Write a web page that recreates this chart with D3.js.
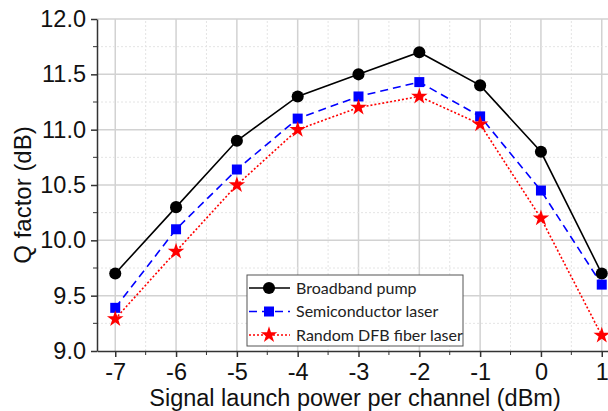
<!DOCTYPE html>
<meta charset="utf-8">
<script src="https://d3js.org/d3.v7.min.js"></script>
<style>
  body { margin: 0; background: #fff; }
  svg { display: block; }
</style>
<div id="chart"></div>
<script>

// data
var power = [-7, -6, -5, -4, -3, -2, -1, 0, 1];
var broadband = [9.7, 10.3, 10.9, 11.3, 11.5, 11.7, 11.4, 10.8, 9.7];
var semiconductor = [9.39, 10.1, 10.64, 11.1, 11.3, 11.43, 11.12, 10.45, 9.6];
var randomDfb = [9.29, 9.9, 10.5, 11.0, 11.2, 11.3, 11.05, 10.2, 9.14];
var seriesNames = ["Broadband pump", "Semiconductor laser", "Random DFB fiber laser"];
var yTicks = [9.0, 9.5, 10.0, 10.5, 11.0, 11.5, 12.0];

var axisFont = "'Liberation Sans', Arial, sans-serif";

var width = 608, height = 411;
var svg = d3.select("#chart").append("svg")
  .attr("width", width)
  .attr("height", height);

var x = d3.scaleLinear().domain([-7.3, 1.3]).range([97, 620]);
var y = d3.scaleLinear().domain([9, 12]).range([351, 19]);

// grid
var grid = svg.append("g");
d3.range(-7, 1.01, 0.5).forEach(function(v) {
  var major = Math.abs(v - Math.round(v)) < 1e-6;
  grid.append("line")
    .attr("x1", x(v)).attr("x2", x(v))
    .attr("y1", y(9)).attr("y2", y(12))
    .attr("stroke", major ? "#d2d2d2" : "#e4e4e4")
    .attr("stroke-width", major ? 1.5 : 1)
    .attr("stroke-dasharray", major ? null : "2,2");
});
d3.range(9.25, 12.01, 0.25).forEach(function(v) {
  var major = Math.abs(v * 2 - Math.round(v * 2)) < 1e-6;
  grid.append("line")
    .attr("x1", x(-7.3)).attr("x2", width)
    .attr("y1", y(v)).attr("y2", y(v))
    .attr("stroke", major ? "#d2d2d2" : "#e4e4e4")
    .attr("stroke-width", major ? 1.5 : 1)
    .attr("stroke-dasharray", major ? null : "2,2");
});

// axes (plain hyphen for negative labels, like the original)
var xAxis = svg.append("g")
  .attr("transform", "translate(0," + y(9) + ")")
  .call(d3.axisBottom(x).tickValues(power).tickSize(6).tickPadding(6).tickSizeOuter(0)
    .tickFormat(function(d) { return String(d); }));
xAxis.append("g").selectAll("line")
  .data(d3.range(-6.5, 1, 1))
  .enter().append("line")
    .attr("x1", function(d) { return x(d); })
    .attr("x2", function(d) { return x(d); })
    .attr("y1", 0).attr("y2", 4)
    .attr("stroke", "#333");

var yAxis = svg.append("g")
  .attr("transform", "translate(" + x(-7.3) + ",0)")
  .call(d3.axisLeft(y).tickValues(yTicks).tickSize(6).tickPadding(5).tickSizeOuter(0)
    .tickFormat(d3.format(".1f")));
yAxis.append("g").selectAll("line")
  .data(d3.range(9.25, 12, 0.5))
  .enter().append("line")
    .attr("y1", function(d) { return y(d); })
    .attr("y2", function(d) { return y(d); })
    .attr("x1", 0).attr("x2", -4)
    .attr("stroke", "#333");

[xAxis, yAxis].forEach(function(g) {
  g.attr("font-family", axisFont).attr("font-size", 23.5);
});
svg.selectAll(".domain, .tick line").attr("stroke", "#333").attr("stroke-width", 1.5);
svg.selectAll(".tick text").attr("fill", "#111");

// axis titles
svg.append("text")
  .attr("x", 355).attr("y", 406)
  .attr("text-anchor", "middle")
  .attr("font-family", axisFont)
  .attr("font-size", 23.5)
  .attr("fill", "#111")
  .text("Signal launch power per channel (dBm)");

svg.append("text")
  .attr("transform", "translate(31," + y(10.41) + ") rotate(-90)")
  .attr("text-anchor", "middle")
  .attr("font-family", axisFont)
  .attr("font-size", 24)
  .attr("fill", "#111")
  .text("Q factor (dB)");

// series
var styles = [
  { values: broadband, color: "#000", dash: null, marker: "circle" },
  { values: semiconductor, color: "#0000ff", dash: "8,5", marker: "square" },
  { values: randomDfb, color: "#ff0000", dash: "2,2", marker: "star" }
];

var symbolFor = {
  circle: d3.symbol().type(d3.symbolCircle).size(115),
  square: d3.symbol().type(d3.symbolSquare).size(100),
  star: d3.symbol().type(d3.symbolStar).size(85)
};

var line = d3.line()
  .x(function(d, i) { return x(power[i]); })
  .y(function(d) { return y(d); });

var plot = svg.append("g");
styles.forEach(function(s) {
  plot.append("path")
    .datum(s.values)
    .attr("d", line)
    .attr("fill", "none")
    .attr("stroke", s.color)
    .attr("stroke-width", 1.6)
    .attr("stroke-dasharray", s.dash);
});
styles.forEach(function(s) {
  plot.selectAll(null)
    .data(s.values)
    .enter().append("path")
      .attr("d", symbolFor[s.marker])
      .attr("transform", function(d, i) { return "translate(" + x(power[i]) + "," + y(d) + ")"; })
      .attr("fill", s.color);
});

// legend
var legend = svg.append("g").attr("transform", "translate(247,275)");
legend.append("rect")
  .attr("width", 216).attr("height", 71)
  .attr("fill", "#fff")
  .attr("stroke", "#555")
  .attr("stroke-width", 1);

styles.forEach(function(s, i) {
  var ly = 13 + i * 23.5;
  legend.append("line")
    .attr("x1", 2).attr("x2", 43)
    .attr("y1", ly).attr("y2", ly)
    .attr("stroke", s.color)
    .attr("stroke-width", 1.6)
    .attr("stroke-dasharray", s.dash);
  legend.append("path")
    .attr("d", symbolFor[s.marker])
    .attr("transform", "translate(22," + ly + ")")
    .attr("fill", s.color);
  legend.append("text")
    .attr("x", 49).attr("y", ly)
    .attr("dy", "0.35em")
    .attr("font-family", "Lato, 'Open Sans', sans-serif")
    .attr("font-size", 16)
    .attr("fill", "#222")
    .text(seriesNames[i]);
});

</script>
